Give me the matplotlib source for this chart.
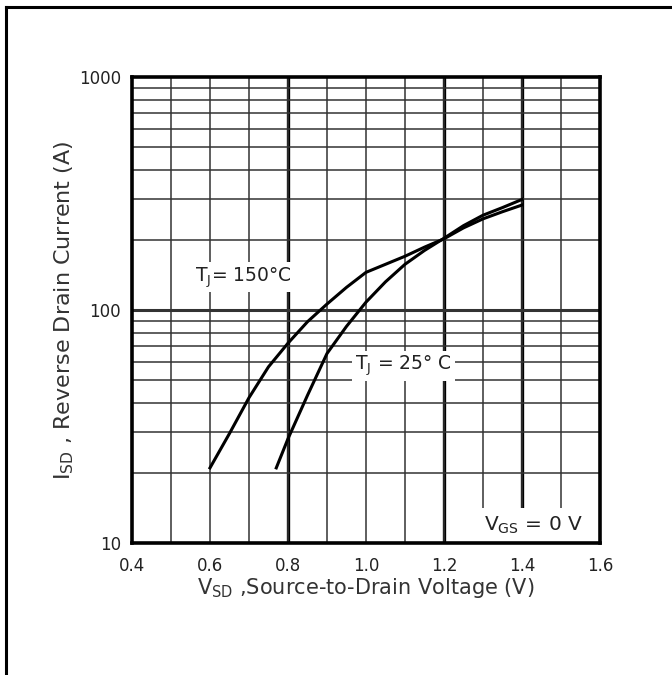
import matplotlib.pyplot as plt
from matplotlib.lines import Line2D

plt.rcParams['font.family'] = ['DejaVu Sans']
plt.rcParams['mathtext.default'] = 'regular'

# forward diode curves
v_150 = [0.60, 0.65, 0.70, 0.75, 0.80, 0.85, 0.90, 0.95, 1.00, 1.05, 1.10, 1.15, 1.20, 1.25, 1.30, 1.35, 1.40]
i_150 = [21, 29.5, 42, 57, 72, 89, 106, 125, 145, 157, 170, 186, 202, 225, 246, 264, 282]
v_25 = [0.77, 0.80, 0.85, 0.90, 0.95, 1.00, 1.05, 1.10, 1.15, 1.20, 1.25, 1.30, 1.35, 1.40]
i_25 = [21, 28, 43, 65, 85, 108, 132, 157, 180, 203, 230, 255, 275, 298]

x_ticks = [0.4, 0.6, 0.8, 1.0, 1.2, 1.4, 1.6]
x_minor = [0.5, 0.7, 0.9, 1.1, 1.3, 1.5]
y_ticks = [10, 100, 1000]
y_labels = ['10', '100', '1000']

fig = plt.figure(figsize=(6.72, 6.75), dpi=100)
ax = fig.add_axes([0.1964, 0.1956, 0.6964, 0.6904])

ax.set_yscale('log')
ax.set_xlim(0.4, 1.6)
ax.set_ylim(10, 1000)

ax.set_xticks(x_ticks)
ax.set_xticklabels([f'{t:.1f}' for t in x_ticks])
ax.set_xticks(x_minor, minor=True)
ax.set_yticks(y_ticks)
ax.set_yticklabels(y_labels)
ax.tick_params(which='both', length=0)
ax.tick_params(axis='x', pad=10, labelsize=12, labelcolor='#222222')
ax.tick_params(axis='y', pad=8, labelsize=12, labelcolor='#222222')

ax.grid(True, which='both', color='#333333', linewidth=1.1)
for v in [0.8, 1.2, 1.4]:
    ax.axvline(v, color='black', linewidth=2.4, zorder=1.5)
ax.axhline(100, color='#333333', linewidth=2.2, zorder=1.5)

for s in ax.spines.values():
    s.set_linewidth(2.6)
    s.set_zorder(5)

ax.plot(v_150, i_150, color='black', linewidth=2.2, zorder=4)
ax.plot(v_25, i_25, color='black', linewidth=2.2, zorder=4)

box = dict(facecolor='white', edgecolor='none', pad=2)
ax.text(0.562, 138, 'T$_J$= 150°C', fontsize=13.5, color='#222222', va='center', bbox=box, zorder=3)
ax.text(0.972, 57.5, 'T$_J$ = 25° C', fontsize=13.5, color='#222222', va='center', bbox=box, zorder=3)
ax.text(1.303, 11.9, 'V$_{GS}$ = 0 V', fontsize=14.5, color='#222222', va='center',
        bbox=dict(facecolor='white', edgecolor='none', pad=5), zorder=3)

ax.set_xlabel('V$_{SD}$ ,Source-to-Drain Voltage (V)', fontsize=15, color='#333333', labelpad=1)
ax.set_ylabel('I$_{SD}$ , Reverse Drain Current (A)', fontsize=16, color='#333333', labelpad=2)

# outer frame (top and left edges only, as in the cropped scan)
fig.add_artist(Line2D([0.009, 1.0], [0.990, 0.990], color='black', linewidth=2.2))
fig.add_artist(Line2D([0.009, 0.009], [0.0, 0.990], color='black', linewidth=2.2))

plt.savefig('out.png', dpi=100)
